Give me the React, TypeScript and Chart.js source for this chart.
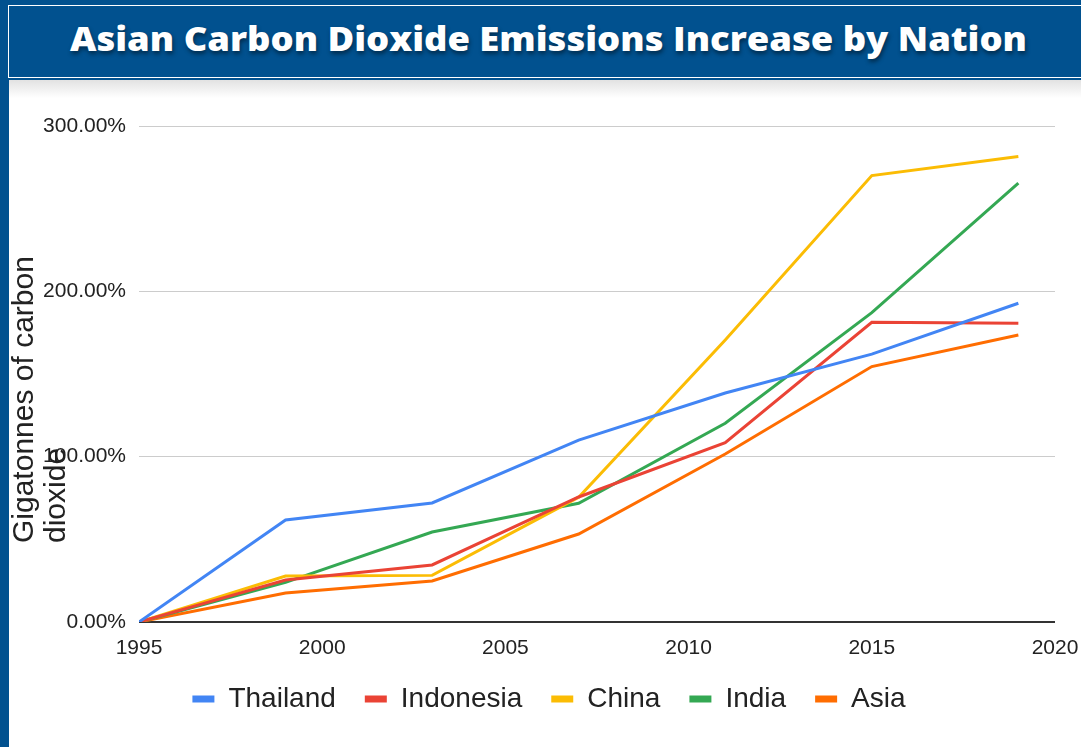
import React, { useEffect, useLayoutEffect, useRef } from 'react';
import { Chart, registerables } from 'chart.js';

Chart.register(...registerables);

const titleText = 'Asian Carbon Dioxide Emissions Increase by Nation';
const yTitleLines = ['Gigatonnes of carbon', 'dioxide'];

const years = [1995, 1999, 2003, 2007, 2011, 2015, 2019];
const thailand = [0, 61.7, 72, 110, 138.5, 162, 192.8];
const indonesia = [0, 25.4, 34.5, 75.6, 108.5, 181.3, 180.7];
const china = [0, 27.8, 28.2, 75.5, 170.6, 270, 281.5];
const india = [0, 24, 54.4, 71.8, 120.2, 187.1, 265.4];
const asia = [0, 17.5, 24.8, 53.2, 101.6, 154.5, 173.6];

const seriesNames = ['Thailand', 'Indonesia', 'China', 'India', 'Asia'];
const seriesValues = [thailand, indonesia, china, india, asia];
const seriesColors = ['#4285F4', '#EA4335', '#FBBC04', '#34A853', '#FF6D01'];

const yMin = 0;
const yMax = 300;
const yStep = 100;
const xMin = 1995;
const xMax = 2020;
const xStep = 5;

const BLUE = '#01518f';
const FONT = '"Liberation Sans", Arial, sans-serif';

const yTitlePlugin = {
  id: 'yTitleLeftAligned',
  afterDraw(chart: any) {
    const { ctx, chartArea } = chart;
    ctx.save();
    ctx.font = `30px ${FONT}`;
    ctx.fillStyle = '#222';
    ctx.textAlign = 'left';
    ctx.textBaseline = 'alphabetic';
    const baselines = [chartArea.left - 106, chartArea.left - 74];
    const startY = chartArea.bottom - 79;
    yTitleLines.forEach((line, i) => {
      ctx.save();
      ctx.translate(baselines[i], startY);
      ctx.rotate(-Math.PI / 2);
      ctx.fillText(line, 0, 0);
      ctx.restore();
    });
    ctx.restore();
  },
};

function LineChart() {
  const ref = useRef<HTMLCanvasElement | null>(null);
  useEffect(() => {
    if (!ref.current) return;
    const chart = new Chart(ref.current, {
      type: 'line',
      data: {
        datasets: seriesNames.map((name, i) => ({
          label: name,
          data: years.map((y, j) => ({ x: y, y: seriesValues[i][j] })),
          borderColor: seriesColors[i],
          backgroundColor: seriesColors[i],
          borderWidth: 3,
          pointRadius: 0,
          pointHoverRadius: 0,
          tension: 0,
        })),
      },
      options: {
        animation: false,
        responsive: false,
        maintainAspectRatio: false,
        layout: { padding: { left: 34, right: 26, top: 41, bottom: 24 } },
        plugins: {
          tooltip: { enabled: false },
          legend: {
            position: 'bottom',
            align: 'center',
            labels: {
              boxWidth: 22,
              boxHeight: 7,
              padding: 29,
              color: '#222',
              font: { family: FONT, size: 28 },
              generateLabels: (c: any) =>
                Chart.defaults.plugins.legend.labels
                  .generateLabels(c)
                  .map((l: any) => ({ ...l, lineWidth: 0, fillStyle: l.strokeStyle })),
            },
          },
        },
        scales: {
          x: {
            type: 'linear',
            min: xMin,
            max: xMax,
            grid: { display: false, drawTicks: false },
            border: { display: false },
            ticks: {
              stepSize: xStep,
              padding: 14,
              color: '#222',
              font: { family: FONT, size: 21 },
              callback: (v: any) => String(v),
              maxRotation: 0,
            },
            afterFit: (s: any) => {
              s.height = 34;
              s.paddingRight = 0;
              s.paddingLeft = 0;
            },
          },
          y: {
            type: 'linear',
            min: yMin,
            max: yMax,
            grid: {
              drawTicks: false,
              color: (c: any) => (c.tick && c.tick.value === 0 ? '#333333' : '#cccccc'),
              lineWidth: (c: any) => (c.tick && c.tick.value === 0 ? 2 : 1),
            },
            border: { display: false },
            ticks: {
              stepSize: yStep,
              padding: 13,
              color: '#222',
              font: { family: FONT, size: 21 },
              callback: (v: any) => Number(v).toFixed(2) + '%',
            },
            afterFit: (s: any) => {
              s.width = 96;
            },
          },
        },
      } as any,
      plugins: [yTitlePlugin],
    });
    return () => chart.destroy();
  }, []);
  return (
    <canvas
      ref={ref}
      width={1072}
      height={662}
      style={{ position: 'absolute', left: 9, top: 85, width: 1072, height: 662 }}
    />
  );
}

export default function App() {
  const titleRef = useRef<HTMLSpanElement | null>(null);
  useLayoutEffect(() => {
    const el = titleRef.current;
    if (!el) return;
    el.style.transform = 'none';
    const w = el.getBoundingClientRect().width;
    const target = 957;
    el.style.transform = `scaleX(${target / w})`;
  }, []);
  return (
    <div
      style={{
        position: 'fixed',
        left: 0,
        top: 0,
        width: 1081,
        height: 747,
        overflow: 'hidden',
        background: '#ffffff',
      }}
    >
      <div style={{ position: 'absolute', left: 9, top: 80, width: 1072, height: 18, background: 'linear-gradient(#e2e2e2, #ffffff)' }} />
      <div style={{ position: 'absolute', left: 0, top: 0, width: 1081, height: 80, background: BLUE }} />
      <div style={{ position: 'absolute', left: 0, top: 0, width: 9, height: 747, background: BLUE }} />
      <div
        style={{
          position: 'absolute',
          left: 8,
          top: 5,
          width: 1100,
          height: 73,
          boxSizing: 'border-box',
          border: '1px solid #ffffff',
        }}
      />
      <span
        ref={titleRef}
        style={{
          position: 'absolute',
          left: 70,
          top: 17,
          whiteSpace: 'nowrap',
          fontFamily: '"Open Sans", sans-serif',
          fontWeight: 800,
          fontSize: 33,
          lineHeight: '44px',
          color: '#ffffff',
          transformOrigin: '0 50%',
          textShadow: '1px 3px 4px rgba(0,0,0,0.45)',
        }}
      >
        {titleText}
      </span>
      <LineChart />
    </div>
  );
}
